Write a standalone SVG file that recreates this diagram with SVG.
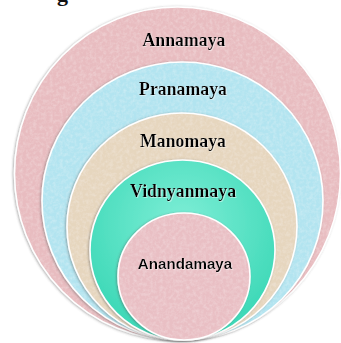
<svg xmlns="http://www.w3.org/2000/svg" width="341" height="343" viewBox="0 0 341 343">
  <style>
    .ring { stroke: #ffffff; stroke-width: 1.6; filter: url(#tex); }
    .smooth { stroke: #ffffff; stroke-width: 1.6; filter: url(#plain); }
    .lbl { font-family: "Liberation Serif", "Times New Roman", serif; font-weight: bold; font-size: 17.8px; fill: #000000; text-anchor: middle; filter: url(#tshadow); }
    .lbl2 { font-family: "Liberation Sans", Arial, sans-serif; font-weight: bold; font-size: 15.2px; fill: #000000; text-anchor: middle; filter: url(#tshadow); }
  </style>
  <defs>
    <filter id="tex" x="-5%" y="-5%" width="110%" height="110%">
      <feTurbulence type="fractalNoise" baseFrequency="0.3" numOctaves="3" seed="4" result="t"/>
      <feColorMatrix in="t" type="matrix" values="0 0 0 0 1  0 0 0 0 1  0 0 0 0 1  0.45 0 0 0 -0.17" result="w"/>
      <feComposite in="w" in2="SourceGraphic" operator="in" result="wi"/>
      <feDropShadow in="SourceGraphic" dx="-1" dy="0.5" stdDeviation="1.2" flood-color="#555555" flood-opacity="0.45" result="sh"/>
      <feMerge>
        <feMergeNode in="sh"/>
        <feMergeNode in="wi"/>
      </feMerge>
    </filter>
    <filter id="plain" x="-5%" y="-5%" width="110%" height="110%">
      <feDropShadow dx="-1" dy="0.5" stdDeviation="1.2" flood-color="#555555" flood-opacity="0.45"/>
    </filter>
    <radialGradient id="teal" cx="50%" cy="35%" r="60%">
      <stop offset="0" stop-color="#7eeed6"/>
      <stop offset="1" stop-color="#3fd9b8"/>
    </radialGradient>
    <filter id="tshadow" x="-10%" y="-30%" width="120%" height="160%">
      <feDropShadow dx="0.8" dy="0.8" stdDeviation="0.6" flood-color="#ffffff" flood-opacity="0.6"/>
    </filter>
  </defs>
  <rect width="341" height="343" fill="#ffffff"/>
  <text x="57" y="1" font-family="Liberation Serif, serif" font-weight="bold" font-size="22px" fill="#111111">g</text>
  <g id="annamaya">
    <ellipse class="ring" cx="177.5" cy="173.5" rx="163" ry="166.5" fill="#e8bcc0"/>
    <text class="lbl" x="184" y="46">Annamaya</text>
  </g>
  <g id="pranamaya">
    <ellipse class="ring" cx="182.5" cy="201" rx="140.5" ry="139" fill="#b2e4f0"/>
    <text class="lbl" x="183" y="95">Pranamaya</text>
  </g>
  <g id="manomaya">
    <ellipse class="ring" cx="182" cy="226.5" rx="115" ry="113.5" fill="#e6d6be"/>
    <text class="lbl" x="183" y="146.5">Manomaya</text>
  </g>
  <g id="vidnyanmaya">
    <ellipse class="smooth" cx="182.5" cy="250" rx="92.5" ry="90" fill="url(#teal)"/>
    <text class="lbl" x="183" y="196.5">Vidnyanmaya</text>
  </g>
  <g id="anandamaya">
    <ellipse class="ring" cx="184" cy="276.5" rx="66" ry="63.5" fill="#e9bfc4"/>
    <text class="lbl2" x="185" y="269">Anandamaya</text>
  </g>
  <g id="connectors"/>
</svg>
